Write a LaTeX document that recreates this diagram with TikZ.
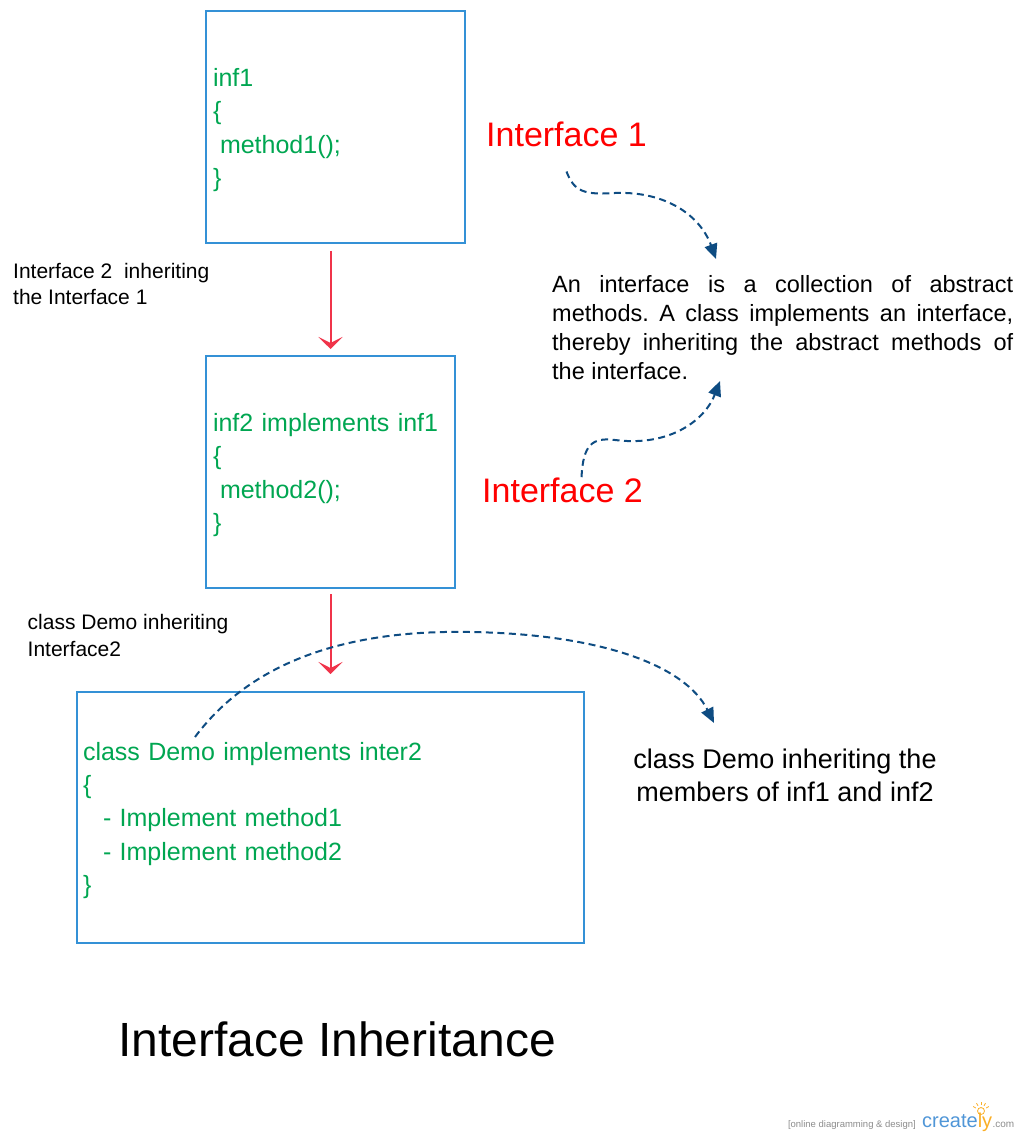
\documentclass[tikz,border=0pt]{standalone}
\usepackage{fontspec}
\setmainfont{Liberation Sans}
\usepackage{xcolor}
\usetikzlibrary{positioning,calc,arrows.meta}

\definecolor{boxblue}{RGB}{52,145,214}
\definecolor{codegreen}{RGB}{0,166,81}
\definecolor{inhred}{RGB}{240,52,74}
\definecolor{noteblue}{RGB}{14,76,130}
\definecolor{markgray}{RGB}{140,140,140}
\definecolor{markblue}{RGB}{80,150,215}
\definecolor{markorange}{RGB}{250,175,40}

\newcommand{\fsz}[2]{\fontsize{#1}{#2}\selectfont}

\tikzset{
    codebox/.style={draw=boxblue, line width=2pt, align=left, inner xsep=7pt, text=codegreen, font=\fsz{25}{33.3}, text height=24pt, minimum height=232pt},
    inherit/.style={draw=inhred, line width=2pt, -{Stealth[length=12pt,width=24pt,inset=6pt]}},
    notelink/.style={draw=noteblue, line width=2pt, dash pattern=on 7pt off 4.5pt, -{Triangle[length=15pt,width=13pt]}},
    sidetext/.style={anchor=base west, align=left, inner sep=0pt, font=\fsz{21}{26}}
}

\begin{document}
\begin{tikzpicture}[x=1pt,y=-1pt]
    \useasboundingbox (0,0) rectangle (1020,1139);

    % Interface boxes
    \node[codebox, text width=245pt] (b1) at (335.5,127) {inf1\\\{\\\hspace*{7pt}method1();\\\}};
    \node[codebox, text width=235pt] (b2) at (330.5,472) {inf2 implements inf1\\\{\\\hspace*{7pt}method2();\\\}};
    \node[codebox, text width=495pt, inner xsep=6pt, minimum height=251pt] (b3) at (330.5,817.5) {class Demo implements inter2\\\{\\\hspace*{20pt}- Implement method1\\\hspace*{20pt}- Implement method2\\\}};

    % Inheritance arrows
    \draw[inherit, shorten <=7pt, shorten >=6pt] (b1.south -| b2.north) -- (b2.north);
    \draw[inherit, shorten <=5pt, shorten >=17pt] (b2.south) -- (b3.north);

    % Side labels (base = last line)
    \node[sidetext] (lab1) at (13,305) {Interface 2\ \ inheriting\\the Interface 1};
    \node[sidetext, font=\fsz{21}{27}] (lab2) at (27.5,656) {class Demo inheriting\\Interface2};

    % Interface names
    \node[anchor=base west, inner sep=0pt, text=red, font=\fsz{34}{40}] (if1) at (486,147) {Interface 1};
    \node[anchor=base west, inner sep=0pt, text=red, font=\fsz{34}{40}] (if2) at (482,502) {Interface 2};

    % Description
    \node[anchor=base west, text width=461pt, inner sep=0pt, align=justify, font=\fsz{23.5}{29}\frenchspacing] (desc) at (552,292)
        {An interface is a collection of abstract\linebreak
         methods. A class implements an interface,\linebreak
         thereby inheriting the abstract methods of\linebreak
         the interface.};
    \node[anchor=base, align=center, inner sep=0pt, font=\fsz{27}{33}] (dnote) at (785,801) {class Demo inheriting the\\members of inf1 and inf2};

    % Dashed notes
    \coordinate (tip1) at (716,259);
    \coordinate (tip2) at (720,381);
    \coordinate (arcstart) at (195,737);
    \coordinate (tip3) at (714,723);
    \draw[notelink] ([yshift=-24pt]if1.south) .. controls (574,192) and (585,195) .. (615,193) .. controls (665,191) and (700,215) .. (tip1);
    \draw[notelink] ([xshift=19pt]if2.north) .. controls (583,445) and (592,437) .. (615,440) .. controls (670,447) and (705,420) .. (tip2);
    \draw[notelink] (arcstart) .. controls (260,650) and (370,630) .. (470,632) .. controls (600,634) and (685,665) .. (tip3);

    % Title
    \node[anchor=base west, inner sep=0pt, font=\fsz{48}{56}] (title) at (118,1056) {Interface Inheritance};

    % Watermark
    \node[anchor=base east, inner sep=0pt, text=markgray, font=\fsz{9.5}{11}] (wm) at (916,1127) {[online diagramming \& design]};
    \node[anchor=base west, inner sep=0pt, text=markblue, font=\fsz{20}{24}] (logo) at (922,1127) {create{\color{markorange}ly}};
    \node[anchor=base west, inner sep=0pt, text=markgray, font=\fsz{10}{12}] (com) at (logo.base east) {.com};
    \draw[markorange, line width=0.8pt] (981,1111) circle (3.5pt);
    \foreach \a in {30,60,90,120,150}
        \draw[markorange, line width=0.8pt] ($(981,1111)+(\a:6pt)$) -- ($(981,1111)+(\a:9pt)$);
\end{tikzpicture}
\end{document}
